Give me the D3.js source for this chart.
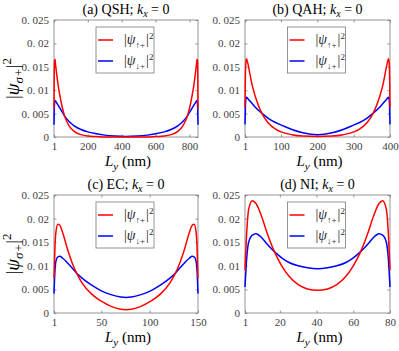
<!DOCTYPE html>
<html>
<head>
<meta charset="utf-8">
<script src="https://cdn.jsdelivr.net/npm/d3@7"></script>
<style>
body { margin: 0; background: #fff; }
text { font-family: "Liberation Serif", "DejaVu Serif", serif; }
</style>
</head>
<body>
<script>
// values (L_y in nm, |psi|^2)
var qshL = [1,2,4,7,10,15,25,35,50,65,90,120,160,200,250,300,360,425.5,491,551,601,651,691,731,761,786,801,816,826,836,841,844,847,849,850];
var qshUp = [0.0060,0.0120,0.0162,0.0166,0.0155,0.0140,0.0112,0.0090,0.0063,0.0043,0.0024,0.0012,0.0005,0.0002,0.0001,0,0,0,0,0,0.0001,0.0002,0.0005,0.0012,0.0024,0.0043,0.0063,0.0090,0.0112,0.0140,0.0155,0.0166,0.0162,0.0120,0.0060];
var qshDown = [0.0026,0.0050,0.0070,0.0078,0.0077,0.0074,0.0068,0.0062,0.0053,0.0044,0.0033,0.0024,0.0016,0.0011,0.0007,0.0004,0.0002,0.0001,0.0002,0.0004,0.0007,0.0011,0.0016,0.0024,0.0033,0.0044,0.0053,0.0062,0.0068,0.0074,0.0077,0.0078,0.0070,0.0050,0.0026];

var qahL = [1,2,3,5,8,12,20,30,47,65,85,100,130,160,200.5,241,271,301,316,336,354,371,381,389,393,396,398,399,400];
var qahUp = [0.0063,0.0125,0.0155,0.0167,0.0160,0.0145,0.0113,0.0085,0.0051,0.0030,0.0017,0.0011,0.0005,0.0002,0.0001,0.0002,0.0005,0.0011,0.0017,0.0030,0.0051,0.0085,0.0113,0.0145,0.0160,0.0167,0.0155,0.0125,0.0063];
var qahDown = [0.0027,0.0060,0.0078,0.0085,0.0083,0.0079,0.0072,0.0063,0.0051,0.0040,0.0031,0.0026,0.0016,0.0009,0.0005,0.0009,0.0016,0.0026,0.0031,0.0040,0.0051,0.0063,0.0072,0.0079,0.0083,0.0085,0.0078,0.0060,0.0027];

var ecL = [1,2,3,5,7,10,15,20,25,30,40,50,60,70,75.5,81,91,101,111,121,126,131,136,141,144,146,148,149,150];
var ecUp = [0.0073,0.0140,0.0172,0.0188,0.0186,0.0170,0.0135,0.0105,0.0082,0.0064,0.0040,0.0025,0.0014,0.0008,0.0007,0.0008,0.0014,0.0025,0.0040,0.0064,0.0082,0.0105,0.0135,0.0170,0.0186,0.0188,0.0172,0.0140,0.0073];
var ecDown = [0.0041,0.0090,0.0110,0.0119,0.0120,0.0116,0.0106,0.0095,0.0083,0.0074,0.0059,0.0047,0.0039,0.0034,0.0033,0.0034,0.0039,0.0047,0.0059,0.0074,0.0083,0.0095,0.0106,0.0116,0.0120,0.0119,0.0110,0.0090,0.0041];

var niL = [1,2,3,5,7,10,13,17,21,25,30,35,40.5,46,51,56,60,64,68,71,74,76,78,79,80];
var niUp = [0.0091,0.0175,0.0220,0.0238,0.0232,0.0205,0.0170,0.0130,0.0100,0.0078,0.0060,0.0051,0.0048,0.0051,0.0060,0.0078,0.0100,0.0130,0.0170,0.0205,0.0232,0.0238,0.0220,0.0175,0.0091];
var niDown = [0.0055,0.0120,0.0150,0.0165,0.0168,0.0160,0.0146,0.0130,0.0117,0.0107,0.0100,0.0096,0.0094,0.0096,0.0100,0.0107,0.0117,0.0130,0.0146,0.0160,0.0168,0.0165,0.0150,0.0120,0.0055];

var qshTicks = [1,200,400,600,800];
var qahTicks = [1,100,200,300,400];
var ecTicks = [1,50,100,150];
var niTicks = [1,20,40,60,80];
var yTicks = [0,0.005,0.01,0.015,0.02,0.025];
var yTickLabels = ["0","0. 005","0. 01","0. 015","0. 02","0. 025"];

var panelLetters = ["a","b","c","d"];
var panelNames = ["QSH","QAH","EC","NI"];

var panels = [
  {L: qshL, up: qshUp, down: qshDown, ticks: qshTicks, xmax: 850, box: [54,198,20,137], ylab: true},
  {L: qahL, up: qahUp, down: qahDown, ticks: qahTicks, xmax: 400, box: [245,390,20,137], ylab: false},
  {L: ecL, up: ecUp, down: ecDown, ticks: ecTicks, xmax: 150, box: [54,198,195,313], ylab: true},
  {L: niL, up: niUp, down: niDown, ticks: niTicks, xmax: 80, box: [245,390,195,313], ylab: false}
];

var axisGray = "#7a7a7a";
var labelGray = "#404040";
var serif = "'Liberation Serif', 'DejaVu Serif', serif";

var svg = d3.select("body")
  .append("svg")
    .attr("width", 399)
    .attr("height", 351);

panels.forEach(function(p, i) {
  var x0 = p.box[0], x1 = p.box[1], y0 = p.box[2], y1 = p.box[3];
  var cx = (x0 + x1) / 2;

  var x = d3.scaleLinear().domain([1, p.xmax]).range([x0, x1]);
  var y = d3.scaleLinear().domain([0, 0.025]).range([y1, y0]);

  var g = svg.append("g");

  // box
  g.append("rect")
    .attr("x", x0).attr("y", y0)
    .attr("width", x1 - x0).attr("height", y1 - y0)
    .attr("fill", "none")
    .attr("stroke", axisGray)
    .attr("stroke-width", 0.8);

  // bottom axis with labels, ticks pointing in
  var xb = g.append("g")
    .attr("transform", "translate(0," + y1 + ")")
    .call(d3.axisBottom(x).tickValues(p.ticks).tickFormat(d3.format("d"))
      .tickSizeInner(-2.5).tickSizeOuter(0).tickPadding(5));
  // top ticks
  var xt = g.append("g")
    .attr("transform", "translate(0," + y0 + ")")
    .call(d3.axisTop(x).tickValues(p.ticks).tickFormat("").tickSizeInner(-2.5).tickSizeOuter(0));

  var yl = g.append("g")
    .attr("transform", "translate(" + x0 + ",0)")
    .call(d3.axisLeft(y).tickValues(yTicks)
      .tickFormat(function(d, k) { return yTickLabels[k]; })
      .tickSizeInner(-2.5).tickSizeOuter(0).tickPadding(5));
  var yr = g.append("g")
    .attr("transform", "translate(" + x1 + ",0)")
    .call(d3.axisRight(y).tickValues(yTicks).tickFormat("").tickSizeInner(-2.5).tickSizeOuter(0));

  [xb, xt, yl, yr].forEach(function(a) {
    a.attr("font-family", serif).attr("font-size", 11);
    a.select(".domain").remove();
    a.selectAll("line").attr("stroke", axisGray).attr("stroke-width", 0.8);
    a.selectAll("text").attr("fill", labelGray);
  });

  // curves
  var pts = p.L.map(function(l, k) { return {l: l, up: p.up[k], down: p.down[k]}; });
  var lineUp = d3.line().x(function(d) { return x(d.l); }).y(function(d) { return y(d.up); }).curve(d3.curveMonotoneX);
  var lineDown = d3.line().x(function(d) { return x(d.l); }).y(function(d) { return y(d.down); }).curve(d3.curveMonotoneX);

  g.append("path").datum(pts)
    .attr("d", lineDown)
    .attr("fill", "none").attr("stroke", "#0000ff").attr("stroke-width", 1.5);
  g.append("path").datum(pts)
    .attr("d", lineUp)
    .attr("fill", "none").attr("stroke", "#ff0000").attr("stroke-width", 1.5);

  // legend
  var lg = g.append("g").attr("transform", "translate(" + cx + "," + y0 + ")");
  lg.append("rect")
    .attr("x", -30).attr("y", 7).attr("width", 58).attr("height", 46)
    .attr("fill", "#fff").attr("stroke", axisGray).attr("stroke-width", 0.8);
  [["↑+", "#ff0000", 20], ["↓+", "#0000ff", 41]].forEach(function(e) {
    lg.append("line")
      .attr("x1", -28).attr("x2", -13).attr("y1", e[2]).attr("y2", e[2])
      .attr("stroke", e[1]).attr("stroke-width", 1.5);
    var t = lg.append("text")
      .attr("x", -2).attr("y", e[2] + 4)
      .attr("fill", "#262626")
      .style("font-size", "14px");
    t.append("tspan").text("|");
    t.append("tspan").style("font-style", "italic").text("ψ");
    t.append("tspan").attr("dy", 4).style("font-size", "9px").text(e[0]);
    t.append("tspan").attr("dy", -4).attr("dx", 1).text("|");
    t.append("tspan").attr("dy", -5).style("font-size", "9px").text("2");
  });

  // title
  var tt = g.append("text")
    .attr("x", cx).attr("y", y0 - 6)
    .attr("text-anchor", "middle")
    .attr("fill", "#000")
    .style("font-size", "14px");
  tt.append("tspan").text("(" + panelLetters[i] + ") " + panelNames[i] + "; ");
  tt.append("tspan").style("font-style", "italic").text("k");
  tt.append("tspan").attr("dy", 3).style("font-size", "10px").style("font-style", "italic").text("x");
  tt.append("tspan").attr("dy", -3).text(" = 0");

  // x label
  var xlab = g.append("text")
    .attr("x", cx + 2).attr("y", y1 + 29)
    .attr("text-anchor", "middle")
    .attr("fill", "#000")
    .style("font-size", "15px");
  xlab.append("tspan").style("font-style", "italic").text("L");
  xlab.append("tspan").attr("dy", 4).style("font-size", "11px").style("font-style", "italic").text("y");
  xlab.append("tspan").attr("dy", -4).text(" (nm)");

  // y label
  if (p.ylab) {
    var ylab = g.append("text")
      .attr("transform", "translate(19," + ((y0 + y1) / 2) + ")rotate(-90)")
      .attr("text-anchor", "middle")
      .attr("fill", "#000")
      .style("font-size", "19px");
    ylab.append("tspan").text("|");
    ylab.append("tspan").style("font-style", "italic").text("ψ");
    ylab.append("tspan").attr("dy", 4).style("font-size", "13px").style("font-style", "italic").text("σ+");
    ylab.append("tspan").attr("dy", -4).text("|");
    ylab.append("tspan").attr("dy", -8).style("font-size", "13px").text("2");
  }
});
</script>
</body>
</html>
